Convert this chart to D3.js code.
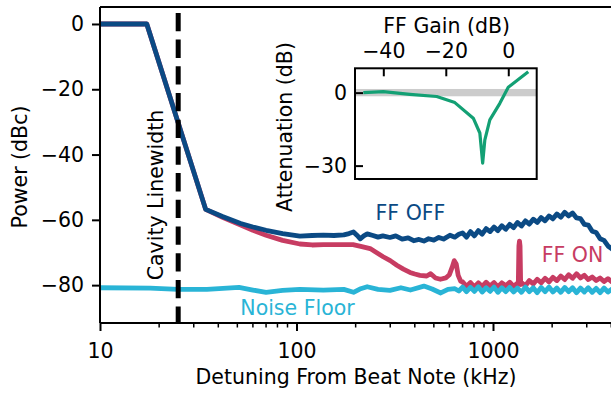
<!DOCTYPE html>
<html><head><meta charset="utf-8">
<script src="https://cdn.jsdelivr.net/npm/d3@7"></script>
<style>
html,body{margin:0;padding:0;background:#fff;overflow:hidden}
svg{display:block}
text{font-family:"DejaVu Sans",sans-serif}
</style></head><body>
<svg id="c" width="611" height="394"></svg>
<script>
// ---- data ----
const ffOff = [[10,0],[17.3,0],[34.5,-56.8],[42,-59],[52,-61.1],[60,-62.2],[70,-63.2],[85,-64.2],[104,-65],[120,-64.8],[137,-64.7],[155,-64.8],[174,-64.6],[185,-64.2],[195,-63.7],[203,-64.7],[211,-65.8],[220,-64.9],[229,-64.3],[245,-64.8],[260,-65.3],[275,-64.9],[299,-65.4],[320,-64.9],[345,-65.9],[370,-65.5],[395,-66.4],[420,-66],[445,-66.5],[470,-65.8],[500,-66.2],[530,-65.4],[560,-65.9],[604,-64.7],[640,-65.3],[670,-64.4],
  [700,-64.0],[733,-65.3],[768,-63.6],[804,-64.9],[842,-63.3],[881,-64.4],[923,-62.7],[966,-63.6],[1012,-62.2],[1059,-63.3],[1109,-61.8],[1161,-62.9],[1216,-61.4],[1273,-62.4],[1333,-60.8],[1396,-61.9],[1462,-60.3],[1531,-61.3],[1603,-59.8],[1679,-60.8],[1758,-59.3],[1841,-60.3],[1928,-58.8],[2018,-59.7],[2113,-58.2],[2213,-59.2],[2317,-57.7],[2427,-58.8],[2541,-57.9],[2661,-59.4],[2786,-59.6],[2917,-61.4],[3055,-61.6],[3199,-63.5],[3350,-63.9],[3508,-65.8],[3673,-66.3],[3846,-68.0],[4027,-68.9],[4300,-70]];
const ffOn = [[10,0],[17.3,0],[34.5,-56.8],[42,-59.2],[52,-61.6],[60,-63.2],[70,-64.7],[85,-66.3],[104,-67.4],[120,-67.7],[137,-67.6],[160,-67.6],[194,-67.6],[215,-68.2],[237,-68.8],[255,-70],[276,-71.3],[300,-72.5],[324,-73.9],[350,-75.1],[378,-76.1],[400,-76.6],[425,-77],[460,-77.2],[482,-76.5],[510,-77.8],[540,-78.2],[575,-77.8],[600,-76.8],[620,-74.5],[635,-72.5],[650,-73.5],[665,-77],[685,-78.8],
  [700,-79.0],[733,-80.4],[768,-79.2],[804,-80.5],[842,-79.3],[881,-80.4],[923,-79.1],[966,-80.3],[1012,-79.2],[1059,-80.5],[1109,-79.3],[1161,-80.2],[1216,-79.1],[1273,-80.4],[1333,-79.4],[1345,-79.8],[1355,-68],[1364,-66.5],[1373,-68],[1383,-79.8],[1396,-79.2],[1462,-80.2],[1531,-78.6],[1603,-79.6],[1679,-78.2],[1758,-79.3],[1841,-77.9],[1928,-79.0],[2018,-77.6],[2113,-78.6],[2213,-77.2],[2317,-78.3],[2427,-76.8],[2541,-77.9],[2661,-76.5],[2786,-77.8],[2917,-77.0],[3055,-78.3],[3199,-77.5],[3350,-78.6],[3508,-77.8],[3673,-78.9],[3846,-78.0],[4027,-79.0],[4300,-78.8]];
const noiseFloor = [[10,-80.8],[18,-80.9],[25,-81.3],[35,-81.3],[51,-80.7],[60,-81.5],[70,-82.2],[85,-81.6],[104,-81.3],[137,-81.5],[174,-81.3],[195,-82.2],[210,-81.2],[229,-80.5],[260,-81.3],[299,-81.6],[340,-80.8],[380,-81.5],[445,-80.3],[490,-81.2],[542,-82.4],[590,-81.3],[640,-81.1],[670,-81.8],
  [700,-80.6],[733,-82.0],[768,-80.7],[804,-81.9],[842,-80.5],[881,-82.1],[923,-80.8],[966,-81.9],[1012,-80.6],[1059,-82.2],[1109,-80.8],[1161,-82.0],[1216,-80.7],[1273,-82.1],[1333,-80.9],[1396,-82.2],[1462,-80.6],[1531,-82.0],[1603,-80.8],[1679,-82.3],[1758,-80.7],[1841,-82.0],[1928,-80.6],[2018,-82.1],[2113,-80.9],[2213,-82.2],[2317,-80.7],[2427,-82.0],[2541,-80.8],[2661,-82.3],[2786,-80.9],[2917,-82.1],[3055,-80.8],[3199,-82.2],[3350,-81.0],[3508,-82.3],[3673,-80.9],[3846,-82.1],[4027,-81.2],[4300,-81.5]];
const cavityLinewidth = 25;
const xTicks = [10, 100, 1000];
const yTicks = [0, -20, -40, -60, -80];
const insetData = [[-46.4,0],[-40,0.4],[-31.5,-0.7],[-22.9,-1.6],[-17.1,-4.1],[-11.2,-10.5],[-9.1,-16.6],[-8.2,-29],[-7.5,-19.4],[-5.9,-11.2],[-2.7,-4.4],[0,2.2],[6.4,8.6]];
const insetXTicks = [-40, -20, 0];
const insetYTicks = [0, -30];

// ---- layout ----
const svg = d3.select("#c");
const L = 100, T = 7, B = 323;
const x = d3.scaleLog().domain([10, 4000]).range([L, 611.3]);
const y = d3.scaleLinear().domain([-91.6, 5.2]).range([B, T]);
const FS = 20.5;
const minus = d => d3.format("d")(d).replace("-","\u2212");

svg.append("clipPath").attr("id","clip").append("rect")
  .attr("x", L).attr("y", T).attr("width", 700).attr("height", B - T);

const line = d3.line().x(d => x(d[0])).y(d => y(d[1]));
const g = svg.append("g").attr("clip-path","url(#clip)");
g.append("path").datum(ffOn).attr("d", line).attr("fill","none")
  .attr("stroke","#c73c62").attr("stroke-width",4.8).attr("stroke-linejoin","round");
g.append("path").datum(ffOff).attr("d", line).attr("fill","none")
  .attr("stroke","#0b4a84").attr("stroke-width",4.8).attr("stroke-linejoin","round");
g.append("path").datum(noiseFloor).attr("d", line).attr("fill","none")
  .attr("stroke","#29b4d6").attr("stroke-width",4.8).attr("stroke-linejoin","round");

// cavity linewidth
g.append("line").attr("x1", x(cavityLinewidth)).attr("x2", x(cavityLinewidth))
  .attr("y1", y(3.4)).attr("y2", B).attr("stroke","#000").attr("stroke-width",5)
  .attr("stroke-dasharray","18.3 8.4");

// axes
const xAxis = d3.axisBottom(x).tickValues(xTicks).tickFormat(d3.format("d")).tickSize(8).tickPadding(12);
const xa = svg.append("g").attr("transform",`translate(0,${B})`).call(xAxis);
const minor = [];
for (let d = 10; d < 10000; d *= 10) for (let k = 2; k <= 9; k++) if (d*k <= 4000) minor.push(d*k);
xa.selectAll(".minor").data(minor).enter().append("line").attr("class","minor")
  .attr("x1", d => x(d)).attr("x2", d => x(d)).attr("y1", 0).attr("y2", 4.5)
  .attr("stroke","#000").attr("stroke-width",1.5);
const yAxis = d3.axisLeft(y).tickValues(yTicks).tickFormat(minus).tickSize(8).tickPadding(8);
const ya = svg.append("g").attr("transform",`translate(${L},0)`).call(yAxis);
[xa, ya].forEach(a => {
  a.select(".domain").attr("stroke-width",2).attr("stroke","#000");
  a.selectAll(".tick line").attr("stroke-width",2);
  a.selectAll("text").attr("font-size",FS).attr("font-family","DejaVu Sans").attr("fill","#000");
});
xa.select(".domain").attr("d", `M${L},0H700`);
ya.select(".domain").attr("d", `M0,${T}V${B}`);
svg.append("line").attr("x1",L).attr("x2",700).attr("y1",T).attr("y2",T).attr("stroke","#000").attr("stroke-width",2);

svg.append("text").attr("x",356).attr("y",384).attr("text-anchor","middle")
  .attr("font-size",FS).text("Detuning From Beat Note (kHz)");
svg.append("text").attr("transform","translate(27,167) rotate(-90)").attr("text-anchor","middle")
  .attr("font-size",FS).text("Power (dBc)");
svg.append("text").attr("transform","translate(163,195) rotate(-90)").attr("text-anchor","middle")
  .attr("font-size",FS).text("Cavity Linewidth");
svg.append("text").attr("x",410.5).attr("y",220).attr("text-anchor","middle")
  .attr("font-size",FS).attr("fill","#0b4a84").text("FF OFF");
svg.append("text").attr("x",572.5).attr("y",261.7).attr("text-anchor","middle")
  .attr("font-size",FS).attr("fill","#c73c62").text("FF ON");
svg.append("text").attr("x",297.5).attr("y",315).attr("text-anchor","middle")
  .attr("font-size",FS).attr("fill","#29b4d6").text("Noise Floor");

// ---- inset ----
const iL = 355, iR = 536.7, iT = 68.3, iB = 179;
const ix = d3.scaleLinear().domain([-49.06, 9.1]).range([iL, iR]);
const iy = d3.scaleLinear().domain([-35.5, 10]).range([iB, iT]);
svg.append("rect").attr("x",iL).attr("y",iT).attr("width",iR-iL).attr("height",iB-iT).attr("fill","#fff");
svg.append("rect").attr("x",iL).attr("y",iy(1.5)).attr("width",iR-iL).attr("height",iy(-1.5)-iy(1.5)).attr("fill","#cccccc");
svg.append("path").datum(insetData).attr("d", d3.line().x(d=>ix(d[0])).y(d=>iy(d[1])))
  .attr("fill","none").attr("stroke","#13a074").attr("stroke-width",3.2).attr("stroke-linejoin","round");
const ixa = svg.append("g").attr("transform",`translate(0,${iT})`)
  .call(d3.axisTop(ix).tickValues(insetXTicks).tickFormat(minus).tickSizeInner(-8).tickSizeOuter(0).tickPadding(10));
const iya = svg.append("g").attr("transform",`translate(${iL},0)`)
  .call(d3.axisLeft(iy).tickValues(insetYTicks).tickFormat(minus).tickSizeInner(-8).tickSizeOuter(0).tickPadding(8));
[ixa, iya].forEach(a => {
  a.select(".domain").remove();
  a.selectAll(".tick line").attr("stroke","#000").attr("stroke-width",2);
  a.selectAll("text").attr("font-size",FS).attr("font-family","DejaVu Sans").attr("fill","#000");
});
svg.append("rect").attr("x",iL).attr("y",iT).attr("width",iR-iL).attr("height",iB-iT)
  .attr("fill","none").attr("stroke","#000").attr("stroke-width",2);
svg.append("text").attr("x",446.7).attr("y",33.3).attr("text-anchor","middle")
  .attr("font-size",FS).text("FF Gain (dB)");
svg.append("text").attr("transform","translate(291.7,127) rotate(-90)").attr("text-anchor","middle")
  .attr("font-size",FS).text("Attenuation (dB)");
</script></body></html>
